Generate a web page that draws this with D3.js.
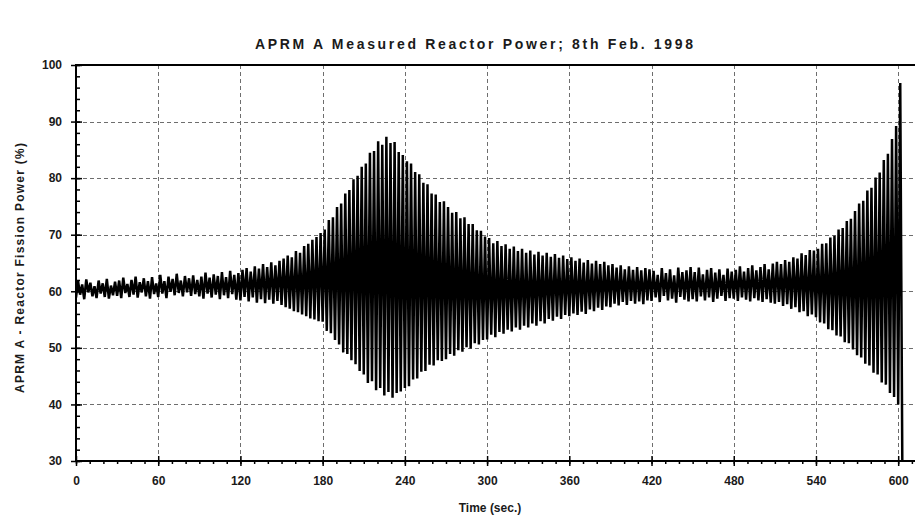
<!DOCTYPE html>
<html>
<head>
<meta charset="utf-8">
<script src="https://cdn.jsdelivr.net/npm/d3@7"></script>
<style>
  html, body { margin: 0; padding: 0; background: #fff; }
  svg { display: block; }
  text { font-family: "Liberation Sans", Arial, sans-serif; font-weight: bold; fill: #1a1a1a; }
</style>
</head>
<body>
<svg id="chart" width="915" height="520"></svg>
<script>
// APRM A power trace, sampled at successive oscillation minima/maxima (% of rated power)
const sampleStep = 1.5; // seconds between successive samples
const power = [
  // 0 - 28.5 s
  58.9, 61.8, 59.4, 61.2, 58.6, 62.1, 59.8, 61.5, 59.1, 60.9, 58.8, 61.9, 59.6, 61.4, 59.0, 62.2, 58.7, 61.0, 59.3, 61.7,
  // 30 s
  59.2, 61.9, 58.8, 62.4, 59.7, 61.3, 59.0, 62.0, 59.4, 62.6, 58.9, 61.6, 59.8, 62.3, 59.1, 61.8, 58.7, 62.5, 59.5, 61.4,
  // 60 s
  59.0, 62.9, 59.6, 61.8, 58.8, 62.6, 59.9, 62.2, 59.3, 63.1, 59.7, 61.9, 59.1, 62.7, 59.8, 62.3, 59.2, 62.8, 59.5, 62.0,
  // 90 s
  59.1, 62.6, 58.7, 63.3, 59.6, 62.4, 58.9, 63.0, 59.4, 62.7, 58.6, 63.4, 59.3, 62.5, 58.8, 63.6, 59.5, 62.9, 58.5, 63.2,
  // 120 s
  58.4, 63.8, 59.0, 64.1, 58.2, 63.5, 58.9, 64.4, 58.0, 64.0, 58.6, 64.8, 57.9, 64.3, 58.5, 65.1, 57.8, 64.6, 58.3, 65.4,
  // 150 s
  57.6, 65.8, 57.2, 66.3, 56.9, 66.0, 56.5, 67.1, 56.3, 66.8, 55.9, 68.0, 55.6, 68.4, 55.2, 69.1, 55.0, 69.6, 54.7, 70.3,
  // 180 s
  54.6, 70.9, 53.0, 72.6, 52.6, 73.1, 51.4, 74.9, 50.6, 75.5, 49.2, 77.3, 48.9, 77.9, 47.8, 79.8, 47.1, 80.4, 45.9, 82.0,
  // 210 s
  45.3, 82.6, 43.8, 84.5, 44.1, 84.8, 42.5, 86.5, 42.9, 85.9, 41.6, 87.3, 42.2, 86.2, 41.2, 86.4, 42.0, 84.6, 42.3, 84.1,
  // 240 s
  42.9, 83.0, 43.2, 82.6, 44.4, 81.1, 44.6, 80.7, 45.8, 79.2, 45.9, 78.9, 47.0, 77.3, 46.9, 77.1, 47.8, 75.8, 47.7, 75.9,
  // 270 s
  48.0, 74.9, 48.9, 73.9, 48.6, 74.0, 49.6, 72.9, 49.3, 73.1, 50.1, 71.9, 49.9, 71.9, 50.8, 70.8, 50.6, 70.7, 51.4, 69.7,
  // 300 s
  51.5, 69.4, 52.3, 68.5, 51.9, 68.9, 52.8, 68.0, 52.5, 68.3, 53.2, 67.5, 52.9, 67.9, 53.6, 67.1, 53.2, 67.5, 53.9, 66.8,
  // 330 s
  53.6, 67.2, 54.3, 66.5, 53.9, 67.0, 54.7, 66.3, 54.3, 66.8, 55.1, 66.1, 54.8, 66.6, 55.5, 65.9, 55.1, 66.3, 55.8, 65.7,
  // 360 s
  55.6, 66.0, 56.1, 65.4, 55.8, 65.8, 56.4, 65.1, 56.0, 65.5, 56.8, 64.9, 56.5, 65.4, 57.1, 64.8, 56.7, 65.2, 57.3, 64.6,
  // 390 s
  57.2, 64.8, 57.8, 64.2, 57.5, 64.6, 58.1, 63.9, 57.6, 64.4, 58.3, 63.8, 57.8, 64.3, 58.2, 63.7, 57.7, 64.1, 58.4, 63.9,
  // 420 s
  58.3, 63.6, 58.9, 62.9, 58.1, 64.1, 59.2, 63.2, 58.4, 63.9, 58.7, 62.8, 58.0, 64.2, 59.0, 63.4, 58.5, 63.7, 58.2, 64.3,
  // 450 s
  58.6, 63.4, 58.2, 64.2, 59.1, 63.0, 58.4, 63.8, 58.9, 64.1, 58.1, 63.3, 58.7, 63.9, 59.2, 62.9, 58.3, 64.0, 58.8, 63.5,
  // 480 s
  58.7, 63.8, 58.3, 64.4, 58.9, 63.5, 58.5, 64.1, 58.2, 64.6, 58.8, 63.7, 58.4, 64.3, 58.1, 64.8, 58.6, 63.9, 58.0, 64.9,
  // 510 s
  57.8, 65.2, 58.1, 64.8, 57.4, 65.5, 57.7, 65.2, 56.9, 66.0, 57.2, 65.8, 56.3, 66.7, 56.5, 66.4, 55.6, 67.3, 55.9, 67.2,
  // 540 s
  55.4, 67.5, 54.5, 68.4, 54.3, 68.5, 53.3, 69.5, 53.1, 69.8, 52.2, 70.9, 52.0, 71.2, 51.0, 72.4, 50.8, 72.8, 49.7, 74.2,
  // 570 s
  48.7, 75.5, 48.3, 76.0, 47.2, 77.8, 46.9, 78.3, 45.6, 80.1, 45.3, 81.0, 43.9, 83.2, 43.5, 84.3, 42.0, 86.9, 41.3, 89.2,
  // 600 s: last swing, then scram
  40.0, 96.8, 30.0
];

const xTicks = [0, 60, 120, 180, 240, 300, 360, 420, 480, 540, 600];
const xTickLabels = ["0", "60", "120", "180", "240", "300", "360", "420", "480", "540", "600"];
const xMinorTicks = d3.range(0, 611, 10);
const yTicks = [30, 40, 50, 60, 70, 80, 90, 100];
const yTickLabels = ["30", "40", "50", "60", "70", "80", "90", "100"];
const yMinorTicks = d3.range(30, 101, 2);
const yGrid = [40, 50, 60, 70, 80, 90];

const titleText = "APRM A Measured Reactor Power; 8th Feb. 1998";
const xTitle = "Time (sec.)";
const yTitle = "APRM A - Reactor Fission Power (%)";

const svg = d3.select("#chart");
const plotLeft = 76, plotRight = 916, plotTop = 65, plotBottom = 461;

const x = d3.scaleLinear().domain([0, 613]).range([plotLeft, plotRight]);
const y = d3.scaleLinear().domain([30, 100]).range([plotBottom, plotTop]);

svg.append("defs").append("clipPath").attr("id", "plotClip")
  .append("rect").attr("x", plotLeft).attr("y", plotTop)
  .attr("width", plotRight - plotLeft).attr("height", plotBottom - plotTop);

// dashed grid
const grid = svg.append("g").attr("stroke", "#6e6e6e").attr("stroke-width", 1).attr("stroke-dasharray", "4,3");
grid.selectAll("line.vg").data(xTicks.filter(d => d > 0)).join("line")
  .attr("class", "vg")
  .attr("x1", d => Math.round(x(d)) + 0.5).attr("x2", d => Math.round(x(d)) + 0.5)
  .attr("y1", plotTop).attr("y2", plotBottom);
grid.selectAll("line.hg").data(yGrid).join("line")
  .attr("class", "hg")
  .attr("y1", d => Math.round(y(d)) + 0.5).attr("y2", d => Math.round(y(d)) + 0.5)
  .attr("x1", plotLeft).attr("x2", plotRight);

// power trace
const line = d3.line()
  .x((d, i) => x(i * sampleStep))
  .y(d => y(d));
svg.append("path")
  .datum(power)
  .attr("clip-path", "url(#plotClip)")
  .attr("fill", "none")
  .attr("stroke", "#000")
  .attr("stroke-width", 2.5)
  .attr("stroke-linejoin", "bevel")
  .attr("d", line);

// axes
function styleAxis(g) {
  g.select(".domain").remove();
  g.selectAll(".tick line").attr("stroke", "#000").attr("stroke-width", 1.5);
  g.selectAll(".tick text").attr("font-size", 12).attr("fill", "#1a1a1a")
    .attr("font-family", "'Liberation Sans', Arial, sans-serif").attr("font-weight", "bold");
}

svg.append("g").attr("transform", `translate(0,${plotBottom})`)
  .call(d3.axisBottom(x).tickValues(xMinorTicks).tickSize(3).tickFormat(""))
  .call(styleAxis);
svg.append("g").attr("transform", `translate(0,${plotBottom})`)
  .call(d3.axisBottom(x).tickValues(xTicks).tickSize(5).tickPadding(10)
    .tickFormat((d, i) => xTickLabels[i]))
  .call(styleAxis);
svg.append("g").attr("transform", `translate(0,${plotBottom})`)
  .call(d3.axisTop(x).tickValues(xTicks).tickSize(5).tickFormat(""))
  .call(styleAxis);

svg.append("g").attr("transform", `translate(${plotLeft},0)`)
  .call(d3.axisRight(y).tickValues(yMinorTicks).tickSize(4).tickFormat(""))
  .call(styleAxis);
svg.append("g").attr("transform", `translate(${plotLeft},0)`)
  .call(d3.axisLeft(y).tickValues(yTicks).tickSize(5).tickPadding(9)
    .tickFormat((d, i) => yTickLabels[i]))
  .call(styleAxis);
svg.append("g").attr("transform", `translate(${plotLeft},0)`)
  .call(d3.axisRight(y).tickValues(yTicks).tickSize(6).tickFormat(""))
  .call(styleAxis);

// frame lines
const frame = svg.append("g").attr("stroke", "#000").attr("stroke-width", 2);
frame.append("line").attr("x1", plotLeft).attr("x2", plotLeft).attr("y1", plotTop - 1).attr("y2", plotBottom + 1);
frame.append("line").attr("x1", plotLeft).attr("x2", 915).attr("y1", plotBottom).attr("y2", plotBottom);
frame.append("line").attr("x1", plotLeft).attr("x2", 915).attr("y1", plotTop).attr("y2", plotTop);

// titles
svg.append("text").attr("x", 474).attr("y", 49).attr("text-anchor", "middle")
  .attr("font-size", 14).attr("textLength", 438).attr("lengthAdjust", "spacing")
  .text(titleText);
svg.append("text").attr("x", 490).attr("y", 512).attr("text-anchor", "middle")
  .attr("font-size", 12).text(xTitle);
svg.append("text").attr("transform", "translate(24,268) rotate(-90)").attr("text-anchor", "middle")
  .attr("font-size", 12).attr("textLength", 250).attr("lengthAdjust", "spacing")
  .text(yTitle);
</script>
</body>
</html>
